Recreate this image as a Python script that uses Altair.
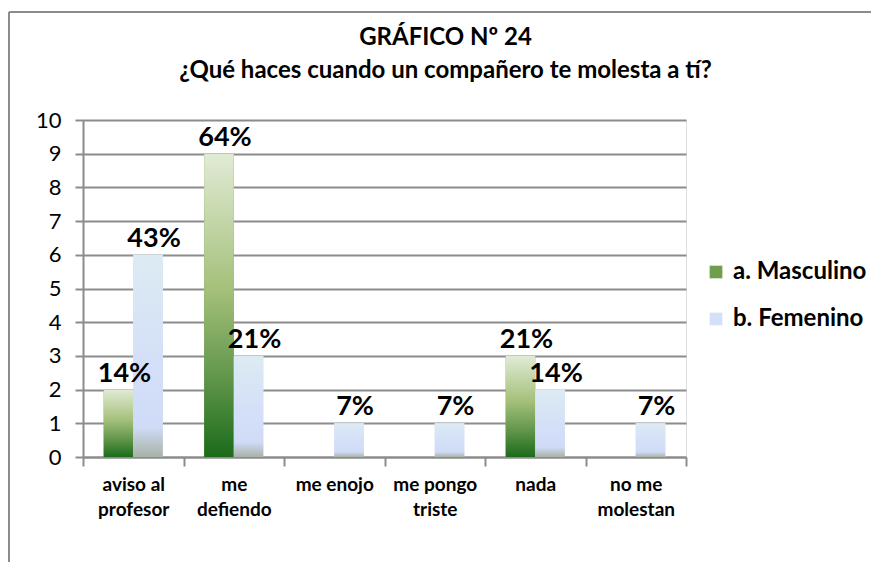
import altair as alt
import pandas as pd

categories = ["aviso al\nprofesor", "me\ndefiendo", "me enojo", "me pongo\ntriste", "nada", "no me\nmolestan"]
series = ["a. Masculino", "b. Femenino"]
masculino = [2, 9, 0, 0, 3, 0]
femenino = [6, 3, 1, 1, 2, 1]
masc_labels = ["14%", "64%", "", "", "21%", ""]
fem_labels = ["43%", "21%", "7%", "7%", "14%", "7%"]

rows = []
for c, v, l in zip(categories, masculino, masc_labels):
    rows.append({"cat": c, "serie": series[0], "val": v, "lab": l})
for c, v, l in zip(categories, femenino, fem_labels):
    rows.append({"cat": c, "serie": series[1], "val": v, "lab": l})
df = pd.DataFrame(rows)

FONT = "Lato"
W, H = 603, 337

x_enc = alt.X("cat:N", sort=categories, title=None,
              scale=alt.Scale(paddingInner=0, paddingOuter=0),
              axis=alt.Axis(labelAngle=0,
                            labelExpr="datum.value ? split(datum.value, '\\n') : ''",
                            labelFont=FONT, labelFontSize=19, labelFontWeight="bold",
                            labelColor="black", labelLineHeight=25, labelPadding=9,
                            tickBand="extent", tickSize=9, tickColor="#8c8c8c", tickWidth=2,
                            domainColor="#8c8c8c", domainWidth=2, grid=False,
                            labelBaseline="top"))
xoff = alt.XOffset("serie:N", sort=series, scale=alt.Scale(domain=series, paddingInner=0, paddingOuter=0.7))
y_enc = alt.Y("val:Q", title=None,
              scale=alt.Scale(domain=[0, 10], nice=False),
              axis=alt.Axis(values=list(range(0, 11)), labelFont=FONT, labelFontSize=22,
                            labelColor="black", labelPadding=14, tickSize=8,
                            tickColor="#8c8c8c", tickWidth=2, domainColor="#8c8c8c",
                            domainWidth=2, gridColor="#8c8c8c", gridWidth=2))

base = alt.Chart(df)

legend_layer = base.mark_bar().encode(
    x=x_enc, xOffset=xoff, y=y_enc,
    color=alt.Color("serie:N", sort=series,
                    scale=alt.Scale(domain=series, range=["#6f9e4c", "#d4e0f6"]),
                    legend=alt.Legend(title=None, orient="none", legendX=621, legendY=140,
                                      symbolType="square", symbolSize=160, symbolStrokeWidth=0,
                                      labelFont=FONT, labelFontSize=24, labelFontWeight="bold",
                                      labelColor="black", rowPadding=23, labelOffset=5)),
)

green = alt.Gradient(gradient="linear", x1=0, y1=0, x2=0, y2=1, stops=[
    alt.GradientStop(color="#e1ebd5", offset=0),
    alt.GradientStop(color="#a4c07a", offset=0.45),
    alt.GradientStop(color="#5e9448", offset=0.75),
    alt.GradientStop(color="#1b6b1b", offset=1),
])
blue = alt.Gradient(gradient="linear", x1=0, y1=0, x2=0, y2=1, stops=[
    alt.GradientStop(color="#dcebf3", offset=0),
    alt.GradientStop(color="#d4dff8", offset=0.55),
    alt.GradientStop(color="#d0dcf7", offset=0.85),
    alt.GradientStop(color="#a8b2a8", offset=1),
])

m_bars = base.transform_filter(alt.datum.serie == series[0]).transform_filter(alt.datum.val > 0).mark_bar(fill=green).encode(
    x=x_enc, xOffset=xoff, y=y_enc)
f_bars = base.transform_filter(alt.datum.serie == series[1]).transform_filter(alt.datum.val > 0).mark_bar(fill=blue).encode(
    x=x_enc, xOffset=xoff, y=y_enc)

labels = base.transform_filter(alt.datum.lab != "").mark_text(
    font=FONT, fontSize=27, fontWeight="bold", color="black", baseline="bottom", dy=-2, dx=6
).encode(x=x_enc, xOffset=xoff, y=y_enc, text="lab:N")

frame_df = pd.DataFrame({"k": [0]})
frame_top = alt.Chart(frame_df).mark_rule(color="#8c8c8c", strokeWidth=2).encode(
    x=alt.value(-74), x2=alt.value(W + 200), y=alt.value(-108))
frame_left = alt.Chart(frame_df).mark_rule(color="#8c8c8c", strokeWidth=2).encode(
    x=alt.value(-74), y=alt.value(-108), y2=alt.value(H + 200))

chart = alt.layer(legend_layer, m_bars, f_bars, labels, frame_top, frame_left).properties(
    width=W, height=H,
    padding={"left": 75, "top": 112, "right": 185, "bottom": 105},
    autosize=alt.AutoSizeParams(type="none"),
    title=alt.TitleParams(
        text=["GRÁFICO Nº 24", "¿Qué haces cuando un compañero te molesta a tí?"],
        font=FONT, fontSize=24, fontWeight="bold", color="black",
        anchor="middle", frame="group", dx=61, dy=72, lineHeight=33, offset=0),
).configure_view(stroke=None).configure(background="white")

chart.save("out.html", embed_options={"renderer": "svg", "actions": False})
